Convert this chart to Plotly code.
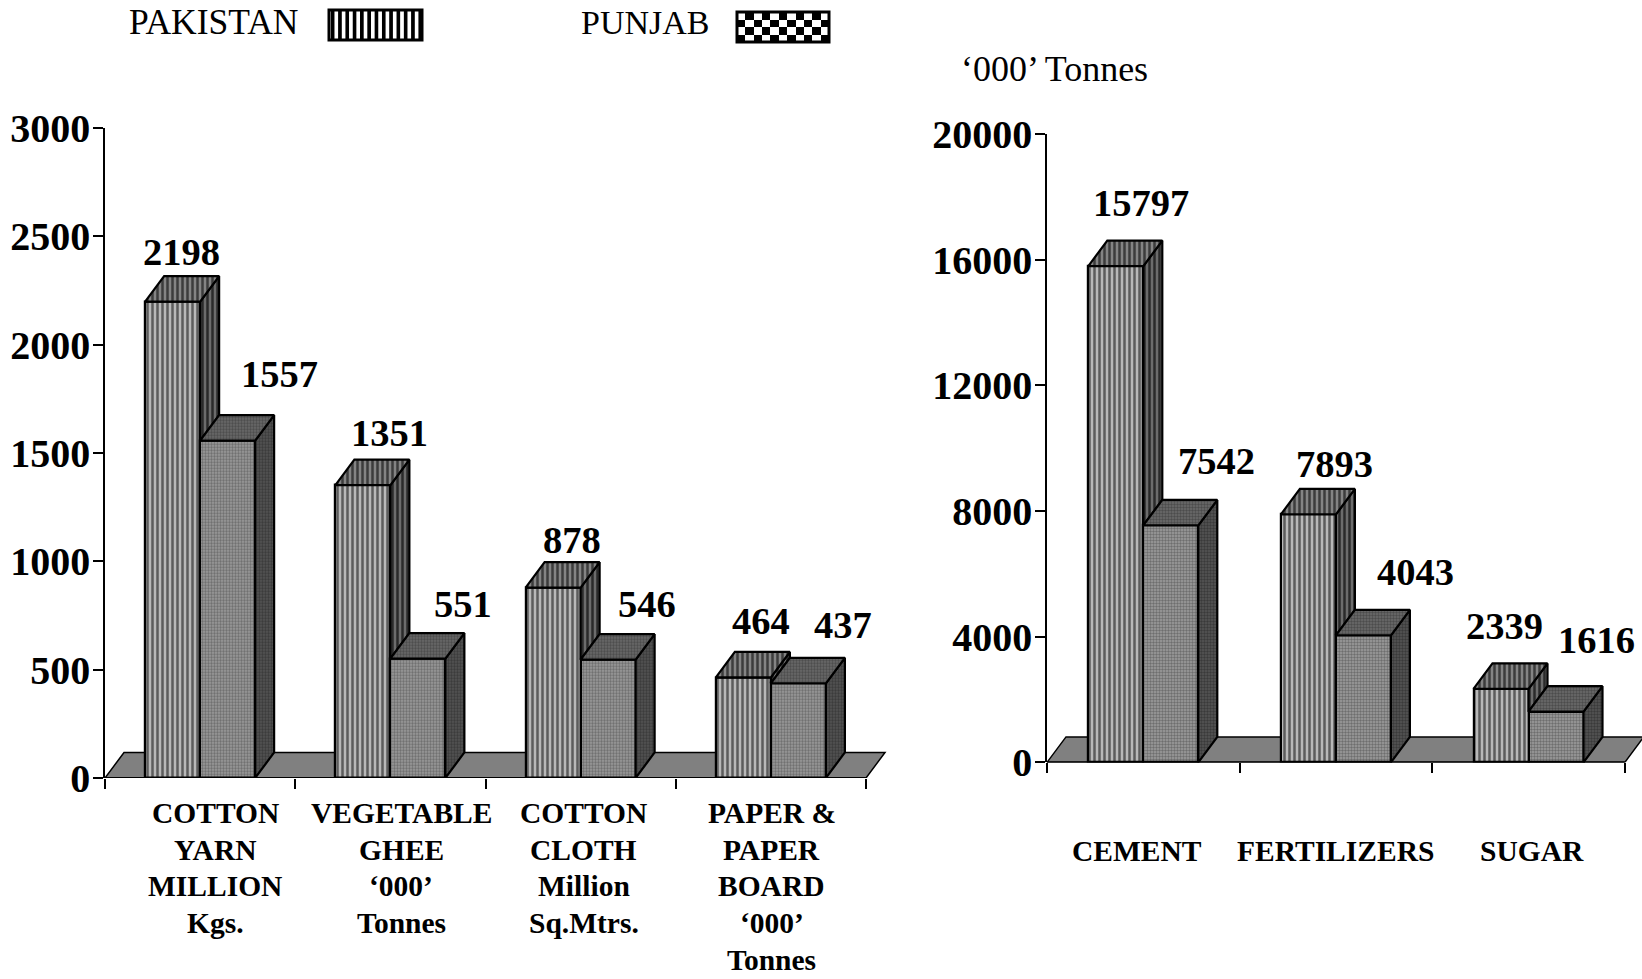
import plotly.graph_objects as go

W, H = 1642, 979
SERIF = "Liberation Serif"

# ---- data ----
left_categories = ["COTTON<br>YARN<br>MILLION<br>Kgs.", "VEGETABLE<br>GHEE<br>‘000’<br>Tonnes",
                   "COTTON<br>CLOTH<br>Million<br>Sq.Mtrs.", "PAPER &<br>PAPER<br>BOARD<br>‘000’<br>Tonnes"]
left_pakistan = [2198, 1351, 878, 464]
left_punjab = [1557, 551, 546, 437]
left_ticks = [0, 500, 1000, 1500, 2000, 2500, 3000]

right_categories = ["CEMENT", "FERTILIZERS", "SUGAR"]
right_pakistan = [15797, 7893, 2339]
right_punjab = [7542, 4043, 1616]
right_ticks = [0, 4000, 8000, 12000, 16000, 20000]

# ---- label nudges in pixels (style, not data) ----
left_pak_shift = [(9, 50), (27, 52), (19, 48), (18, 56)]
left_pun_shift = [(52, 67), (45, 55), (39, 56), (45, 58)]
right_pak_shift = [(25, 63), (26, 50), (3, 63)]
right_pun_shift = [(46, 64), (52, 63), (40, 72)]
left_cat_shift = [15, 11, 3, 1]
right_cat_shift = [-6, 0, 3]

# ---- styles ----
PAK_FRONT = dict(shape="|", size=5, solidity=0.5, fgcolor="#5c5c5c", bgcolor="#b8b8b8", fgopacity=1)
PAK_TOP = dict(shape="|", size=5, solidity=0.5, fgcolor="#3c3c3c", bgcolor="#848484", fgopacity=1)
PAK_SIDE = dict(shape="|", size=5, solidity=0.5, fgcolor="#2a2a2a", bgcolor="#6c6c6c", fgopacity=1)
PUN_FRONT = dict(shape=".", size=3, solidity=0.5, fgcolor="#6e6e6e", bgcolor="#9e9e9e", fgopacity=1)
PUN_TOP = dict(shape=".", size=3, solidity=0.5, fgcolor="#4c4c4c", bgcolor="#6c6c6c", fgopacity=1)
PUN_SIDE = dict(shape=".", size=3, solidity=0.5, fgcolor="#3a3a3a", bgcolor="#565656", fgopacity=1)
FLOOR = "#808080"
DEPTH_PX = (19, 25.5)
BAR_PX = 55
LABEL_SIZE = 38.5
TICK_SIZE = 40
CAT_SIZE = 29.5
CAT_LINE_PX = 36.8

fig = go.Figure()


def chart(xa, ya, x0, cat_px, ybot, ytop, ymax, cats, pak, pun, ticks, pak_shift, pun_shift,
          cat_shift, cat_y, xmax):
    xid = "x" if xa == "xaxis" else "x" + xa[5:]
    yid = "y" if ya == "yaxis" else "y" + ya[5:]
    n = len(cats)
    w = BAR_PX / cat_px
    dx = DEPTH_PX[0] / cat_px
    dy = DEPTH_PX[1] / (ybot - ytop) * ymax
    centers = [i + 0.5 for i in range(n)]

    fig.update_layout({
        xa: dict(domain=[x0 / W, min(1, (x0 + xmax * cat_px) / W)], range=[0, xmax], anchor=yid,
                 tickmode="array", tickvals=list(range(n + 1)), ticktext=[""] * (n + 1),
                 ticks="outside", ticklen=10, tickwidth=1.5, tickcolor="black", automargin=False,
                 showline=False, showgrid=False, zeroline=False),
        ya: dict(domain=[1 - ybot / H, 1 - ytop / H], range=[0, ymax], anchor=xid,
                 tickmode="array", tickvals=ticks, tickformat="d", ticks="outside", ticklen=10, tickwidth=1.5,
                 tickcolor="black", showline=True, linecolor="black", linewidth=1.5, automargin=False,
                 showgrid=False, zeroline=False, ticklabelstandoff=-5,
                 tickfont=dict(family=SERIF, size=TICK_SIZE, color="black", weight="bold")),
    })

    fig.add_shape(type="path", xref=xid, yref=yid, layer="below",
                  path=f"M 0 0 L {n} 0 L {n + dx} {dy} L {dx} {dy} Z",
                  fillcolor=FLOOR, line=dict(color="black", width=1.5))

    for name, vals, pos, patt in (("PAKISTAN", pak, -0.5, PAK_FRONT), ("PUNJAB", pun, 0.5, PUN_FRONT)):
        fig.add_trace(go.Bar(x=[c + pos * w for c in centers], y=vals, width=w, name=name, xaxis=xid, yaxis=yid,
                             marker=dict(color=patt["bgcolor"], pattern=patt,
                                         line=dict(color="black", width=2.2)), showlegend=False))

    def faces(kind, vals, left_edges, floor_vals=None):
        xs, ys = [], []
        for i, v in enumerate(vals):
            l = left_edges[i]
            r = l + w
            if kind == "top":
                px = [l, r, r + dx, l + dx, l]
                py = [v, v, v + dy, v + dy, v]
            else:
                b = floor_vals[i] if floor_vals else 0
                px = [r, r + dx, r + dx, r, r]
                py = [v, v + dy, b + dy, b, v]
            xs += px + [None]
            ys += py + [None]
        return xs, ys

    pak_left = [c - w for c in centers]
    pun_left = list(centers)
    layers = [
        (faces("side", pak, pak_left, pun), PAK_SIDE),
        (faces("top", pak, pak_left), PAK_TOP),
        (faces("side", pun, pun_left), PUN_SIDE),
        (faces("top", pun, pun_left), PUN_TOP),
    ]
    for (xs, ys), patt in layers:
        fig.add_trace(go.Scatter(x=xs, y=ys, mode="lines", fill="toself", xaxis=xid, yaxis=yid,
                                 line=dict(color="black", width=2.2), fillcolor=patt["bgcolor"],
                                 fillpattern=patt, showlegend=False, cliponaxis=False, hoverinfo="skip"))

    fig.add_trace(go.Scatter(x=[0, n], y=[0, 0], mode="lines", xaxis=xid, yaxis=yid,
                             line=dict(color="black", width=2.2), showlegend=False,
                             cliponaxis=False, hoverinfo="skip"))

    for vals, pos, shifts in ((pak, -0.5, pak_shift), (pun, 0.5, pun_shift)):
        for c, v, (sx, sy) in zip(centers, vals, shifts):
            fig.add_annotation(x=c + pos * w, y=v, xref=xid, yref=yid, text=str(v), showarrow=False,
                               xshift=sx, yshift=sy, xanchor="center", yanchor="middle",
                               font=dict(family=SERIF, size=LABEL_SIZE, color="black", weight="bold"))

    for c, t, sx in zip(centers, cats, cat_shift):
        for k, line in enumerate(t.split("<br>")):
            fig.add_annotation(x=c, y=1 - (cat_y + k * CAT_LINE_PX) / H, xref=xid, yref="paper",
                               text=line, showarrow=False, xshift=sx, xanchor="center", yanchor="middle",
                               font=dict(family=SERIF, size=CAT_SIZE, color="black", weight="bold"))


chart("xaxis", "yaxis", 105, 190.25, 778, 127.8, 3000, left_categories, left_pakistan, left_punjab,
      left_ticks, left_pak_shift, left_pun_shift, left_cat_shift, 812.7, 4.12)
chart("xaxis2", "yaxis2", 1047, 192.6, 762.4, 134, 20000, right_categories, right_pakistan, right_punjab,
      right_ticks, right_pak_shift, right_pun_shift, right_cat_shift, 851, 3.089)

# ---- legend ----
SW1 = (329, 422, 10, 40)
SW2 = (737, 829, 12, 42)
fig.update_layout(
    xaxis3=dict(domain=[SW1[0] / W, SW1[1] / W], range=[0, 1], visible=False, anchor="y3"),
    yaxis3=dict(domain=[1 - SW1[3] / H, 1 - SW1[2] / H], range=[0, 1], visible=False, anchor="x3"),
    xaxis4=dict(domain=[SW2[0] / W, SW2[1] / W], visible=False, anchor="y4"),
    yaxis4=dict(domain=[1 - SW2[3] / H, 1 - SW2[2] / H], visible=False, anchor="x4"),
)
fig.add_trace(go.Bar(x=[0.5], y=[1], width=1, xaxis="x3", yaxis="y3", showlegend=False, hoverinfo="skip",
                     marker=dict(color="white", line=dict(width=0),
                                 pattern=dict(shape="|", size=7.3, solidity=0.5, fgcolor="black",
                                              bgcolor="white", fgopacity=1))))
fig.add_trace(go.Heatmap(z=[[(i + j) % 2 for i in range(11)] for j in range(4)], xaxis="x4", yaxis="y4",
                         colorscale=[[0, "black"], [1, "white"]], showscale=False, hoverinfo="skip"))
for s in (SW1, SW2):
    fig.add_shape(type="rect", xref="paper", yref="paper", x0=s[0] / W, x1=s[1] / W,
                  y0=1 - s[3] / H, y1=1 - s[2] / H, line=dict(color="black", width=3), layer="above")

for text, x, y, size in (("PAKISTAN", 127, 22, 35.5), ("PUNJAB", 579, 22, 34), ("‘000’ Tonnes", 959, 69, 36)):
    fig.add_annotation(x=x / W, y=1 - y / H, xref="paper", yref="paper", text=text, showarrow=False,
                       xanchor="left", yanchor="middle", font=dict(family=SERIF, size=size, color="black"))

fig.update_layout(width=W, height=H, margin=dict(l=0, r=0, t=0, b=0), paper_bgcolor="white",
                  plot_bgcolor="rgba(0,0,0,0)", barmode="overlay", bargap=0, showlegend=False)

fig.write_html("out.html", config={"displayModeBar": False},
               post_script="document.body.style.margin='0';document.body.style.overflow='hidden';")
